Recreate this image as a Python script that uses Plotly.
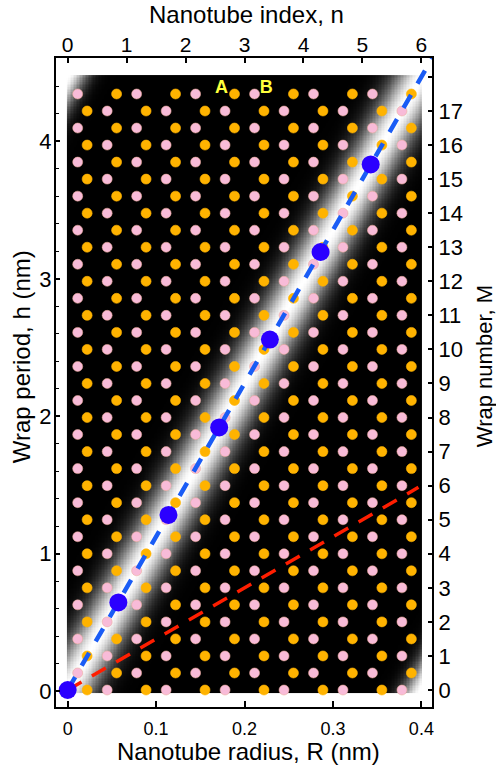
import numpy as np
import plotly.graph_objects as go

# ---------------- data ----------------
R_TICKS = [0, 0.1, 0.2, 0.3, 0.4]
R_TICK_LABELS = ["0", "0.1", "0.2", "0.3", "0.4"]
N_TICKS = [0, 1, 2, 3, 4, 5, 6]
H_TICKS = [0, 1, 2, 3, 4]
M_TICKS = list(range(19))
M_TICK_LABELS = [str(i) for i in range(18)] + [""]

# lattice rows (wrap number M) and dot positions along n in each row type
ROWS_M_INT = [0, 1, 2, 3, 4, 5, 6, 7, 8, 9, 10, 11, 12, 13, 14, 15, 16, 17]
ROWS_M_HALF = [0.5, 1.5, 2.5, 3.5, 4.5, 5.5, 6.5, 7.5, 8.5, 9.5, 10.5, 11.5,
               12.5, 13.5, 14.5, 15.5, 16.5, 17.5]
ORANGE_N_INT = [0.33, 1.33, 2.33, 3.33, 4.33, 5.33]
PINK_N_INT = [0.67, 1.67, 2.67, 3.67, 4.67, 5.67]
PINK_N_HALF = [0.17, 1.17, 2.17, 3.17, 4.17, 5.17]
ORANGE_N_HALF = [0.83, 1.83, 2.83, 3.83, 4.83, 5.83]

# blue resonance points
BLUE_N = [0, 0.86, 1.71, 2.57, 3.43, 4.29, 5.14]
BLUE_M = [0, 2.57, 5.14, 7.71, 10.29, 12.86, 15.43]

# dashed guide lines
BLUE_LINE_N = [0, 6.2]
BLUE_LINE_M = [0, 18.6]
RED_LINE_N = [0, 5.95]
RED_LINE_M = [0, 5.95]

# labels
LABELS = ["A", "B"]
LABEL_N = [2.61, 3.37]
LABEL_M = [17.67, 17.67]

# background glow parameters (band along M = 3 n, period 18 in M - 3n)
GLOW_SLOPE = 3.0
GLOW_PERIOD = 18.0
GLOW_WIDTH_MAIN = 1.35
GLOW_WIDTH_SIDE = 0.95
GLOW_N = np.linspace(0, 6, 241)
GLOW_M = np.linspace(-0.06, 18.03, 363)

# ---------------- figure ----------------
FONT = "Liberation Sans, Arial, Helvetica, sans-serif"
ORANGE = "#FFB300"
PINK = "#F8BBD8"

nn, mm = np.meshgrid(GLOW_N, GLOW_M)
d = mm - GLOW_SLOPE * nn
glow = (np.exp(-(d / GLOW_WIDTH_MAIN) ** 2)
        + np.exp(-((d - GLOW_PERIOD) / GLOW_WIDTH_SIDE) ** 2)
        + np.exp(-((d + GLOW_PERIOD) / GLOW_WIDTH_SIDE) ** 2))
glow = np.round(np.clip(glow, 0, 1), 3)

fig = go.Figure()

fig.add_trace(go.Heatmap(
    x=GLOW_N, y=GLOW_M, z=glow, xaxis="x2", yaxis="y2",
    colorscale=[[0, "#000000"], [1, "#ffffff"]], zmin=0, zmax=1,
    showscale=False, hoverinfo="skip"))

# base-axis anchor (invisible)
fig.add_trace(go.Scatter(x=[0], y=[0], mode="markers", marker=dict(opacity=0),
                         showlegend=False, hoverinfo="skip"))


def lattice(ns, rows):
    xs, ys = [], []
    for m in rows:
        for n in ns:
            xs.append(n)
            ys.append(m)
    return xs, ys


for ns, rows, col in [(ORANGE_N_INT, ROWS_M_INT, ORANGE),
                      (PINK_N_INT, ROWS_M_INT, PINK),
                      (PINK_N_HALF, ROWS_M_HALF, PINK),
                      (ORANGE_N_HALF, ROWS_M_HALF, ORANGE)]:
    xs, ys = lattice(ns, rows)
    line_col = "rgba(235,170,150,0.9)" if col == PINK else col
    fig.add_trace(go.Scatter(
        x=xs, y=ys, xaxis="x2", yaxis="y2", mode="markers",
        marker=dict(size=10, color=col, line=dict(width=0.6, color=line_col)),
        showlegend=False, hoverinfo="skip"))

fig.add_trace(go.Scatter(
    x=RED_LINE_N, y=RED_LINE_M, xaxis="x2", yaxis="y2", mode="lines",
    line=dict(color="#FF1E00", width=3.5, dash="16px,12px"),
    showlegend=False, hoverinfo="skip"))

fig.add_trace(go.Scatter(
    x=BLUE_LINE_N, y=BLUE_LINE_M, xaxis="x2", yaxis="y2", mode="lines",
    line=dict(color="#1A5CF5", width=4.5, dash="15px,13px"),
    showlegend=False, hoverinfo="skip"))

fig.add_trace(go.Scatter(
    x=BLUE_N, y=BLUE_M, xaxis="x2", yaxis="y2", mode="markers",
    marker=dict(size=18, color="#2B00FF"),
    showlegend=False, hoverinfo="skip"))

fig.add_trace(go.Scatter(
    x=LABEL_N, y=LABEL_M, xaxis="x2", yaxis="y2", mode="text", text=LABELS,
    textfont=dict(family=FONT, size=18, color="#FFFF3C", weight="bold"),
    showlegend=False, hoverinfo="skip"))

axis_common = dict(showgrid=False, zeroline=False, showline=True, linewidth=2,
                   linecolor="black", ticks="inside", tickcolor="black")

fig.update_layout(
    width=496, height=769,
    margin=dict(l=56, r=64, t=58, b=62),
    paper_bgcolor="white", plot_bgcolor="white",
    showlegend=False,
    xaxis=dict(range=[-0.0132, 0.412], tickvals=R_TICKS, ticktext=R_TICK_LABELS,
               ticklen=6, tickwidth=2, ticklabelstandoff=4,
               tickfont=dict(family=FONT, size=18, color="black"),
               **axis_common),
    xaxis2=dict(range=[-0.198, 6.18], overlaying="x", side="top", anchor="y",
                tickvals=N_TICKS, ticklen=5, tickwidth=2, ticklabelstandoff=-4,
                tickfont=dict(family=FONT, size=21, color="black"), **axis_common),
    yaxis=dict(range=[-0.116, 4.607], tickvals=H_TICKS, ticklen=4, tickwidth=1.5,
               ticklabelstandoff=-2,
               tickfont=dict(family=FONT, size=22, color="black"),
               minor=dict(dtick=0.2, tick0=0, ticks="inside", ticklen=3,
                          tickwidth=1, tickcolor="black"),
               **axis_common),
    yaxis2=dict(range=[-0.499, 18.556], overlaying="y", side="right", anchor="x",
                tickvals=M_TICKS, ticktext=M_TICK_LABELS, ticklen=4, tickwidth=1.5,
                tickfont=dict(family=FONT, size=22, color="black"), **axis_common),
    annotations=[
        dict(text="Nanotube index, n", xref="paper", yref="paper", x=0.507, y=1.067,
             xanchor="center", yanchor="middle", showarrow=False,
             font=dict(family=FONT, size=24, color="black")),
        dict(text="Nanotube radius, R (nm)", xref="paper", yref="paper", x=0.511, y=-0.069,
             xanchor="center", yanchor="middle", showarrow=False,
             font=dict(family=FONT, size=24, color="black")),
        dict(text="Wrap period, h (nm)", xref="paper", yref="paper", x=-0.093, y=0.539,
             xanchor="center", yanchor="middle", showarrow=False, textangle=-90,
             font=dict(family=FONT, size=24, color="black")),
        dict(text="Wrap number, M", xref="paper", yref="paper", x=1.138, y=0.525,
             xanchor="center", yanchor="middle", showarrow=False, textangle=-90,
             font=dict(family=FONT, size=22, color="black")),
    ],
)

# remove the default page margin so the figure fills the window exactly
fig.write_html("out.html", config={"displayModeBar": False},
               post_script="document.body.style.margin='0px';")
